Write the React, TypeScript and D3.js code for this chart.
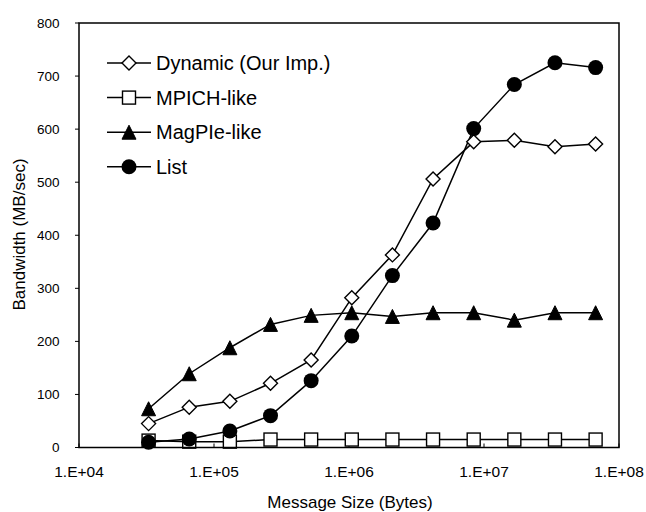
import React from "react";
import * as d3 from "d3";

const sizes = [32768, 65536, 131072, 262144, 524288, 1048576, 2097152, 4194304, 8388608, 16777216, 33554432, 67108864];
const dynamicVals = [45, 76, 87, 121, 165, 282, 363, 506, 576, 579, 567, 572];
const mpichVals = [13, 11, 11, 15, 15, 15, 15, 15, 15, 15, 15, 15];
const magpieVals = [73, 139, 188, 232, 249, 254, 247, 254, 254, 240, 254, 254];
const listVals = [10, 16, 31, 60, 126, 210, 324, 423, 601, 684, 725, 716];

const seriesNames = ["Dynamic (Our Imp.)", "MPICH-like", "MagPIe-like", "List"];
const seriesMarkers = ["diamond", "square", "triangle", "circle"];
const yTicks = [0, 100, 200, 300, 400, 500, 600, 700, 800];
const xTicks = [1e4, 1e5, 1e6, 1e7, 1e8];
const xTickLabels = ["1.E+04", "1.E+05", "1.E+06", "1.E+07", "1.E+08"];

const FONT = "'Liberation Sans', Arial, Helvetica, sans-serif";

function Marker({ kind, x, y }: { kind: string; x: number; y: number }) {
  const sw = 1.4;
  if (kind === "diamond") {
    const r = 7;
    return (
      <path d={`M${x},${y - r}L${x + r},${y}L${x},${y + r}L${x - r},${y}Z`} fill="white" stroke="black" strokeWidth={sw} />
    );
  }
  if (kind === "square") {
    const h = 6.5;
    return <rect x={x - h} y={y - h} width={2 * h} height={2 * h} fill="white" stroke="black" strokeWidth={sw} />;
  }
  if (kind === "triangle") {
    const w = 7, hh = 7;
    return <path d={`M${x},${y - hh}L${x + w},${y + hh}L${x - w},${y + hh}Z`} fill="black" stroke="black" strokeWidth={1} />;
  }
  return <circle cx={x} cy={y} r={7.5} fill="black" />;
}

export default function App() {
  const W = 646, H = 512;
  const left = 79, right = 619, top = 23, bottom = 447.5;
  const x = d3.scaleLog().domain([1e4, 1e8]).range([left, right]);
  const y = d3.scaleLinear().domain([0, 800]).range([bottom, top]);
  const allSeries = [dynamicVals, mpichVals, magpieVals, listVals];
  const line = d3
    .line<number>()
    .x((_, i) => x(sizes[i]))
    .y((v) => y(v));
  // draw order: MPICH, MagPIe, Dynamic, List
  const order = [1, 2, 0, 3];

  return (
    <svg width={W} height={H} style={{ position: "absolute", left: 0, top: 0, background: "white" }} fontFamily={FONT}>
      <rect x={0} y={0} width={W} height={H} fill="white" />
      {/* y ticks */}
      {yTicks.map((t) => (
        <g key={t}>
          <line x1={left - 4} x2={left} y1={y(t)} y2={y(t)} stroke="black" strokeWidth={1} />
          <text x={59.5} y={y(t)} dy="0.36em" textAnchor="end" fontSize={13.5} fill="black">
            {t}
          </text>
        </g>
      ))}
      {/* x ticks */}
      {xTicks.map((t, i) => (
        <g key={t}>
          <line x1={x(t)} x2={x(t)} y1={bottom} y2={bottom - 4} stroke="black" strokeWidth={1} />
          <text x={x(t)} y={477} textAnchor="middle" fontSize={15.5} fill="black">
            {xTickLabels[i]}
          </text>
        </g>
      ))}
      {/* series lines */}
      {order.map((si) => (
        <path key={"l" + si} d={line(allSeries[si]) || ""} fill="none" stroke="black" strokeWidth={1.5} />
      ))}
      {/* markers */}
      {order.map((si) => (
        <g key={"m" + si}>
          {allSeries[si].map((v, i) => (
            <Marker key={i} kind={seriesMarkers[si]} x={x(sizes[i])} y={y(v)} />
          ))}
        </g>
      ))}
      {/* frame */}
      <rect x={left} y={top} width={right - left} height={bottom - top} fill="none" stroke="black" strokeWidth={1.5} />
      {/* legend */}
      {seriesNames.map((n, i) => {
        const ly = 63 + i * 34.6;
        return (
          <g key={n}>
            <line x1={107} x2={151} y1={ly} y2={ly} stroke="black" strokeWidth={1.5} />
            <Marker kind={seriesMarkers[i]} x={129} y={ly} />
            <text x={156} y={ly} dy="0.36em" fontSize={20} fill="black">
              {n}
            </text>
          </g>
        );
      })}
      {/* axis titles */}
      <text transform="translate(25,234.5) rotate(-90)" textAnchor="middle" fontSize={17} fill="black">
        Bandwidth (MB/sec)
      </text>
      <text x={350} y={508} textAnchor="middle" fontSize={17} fill="black">
        Message Size (Bytes)
      </text>
    </svg>
  );
}
